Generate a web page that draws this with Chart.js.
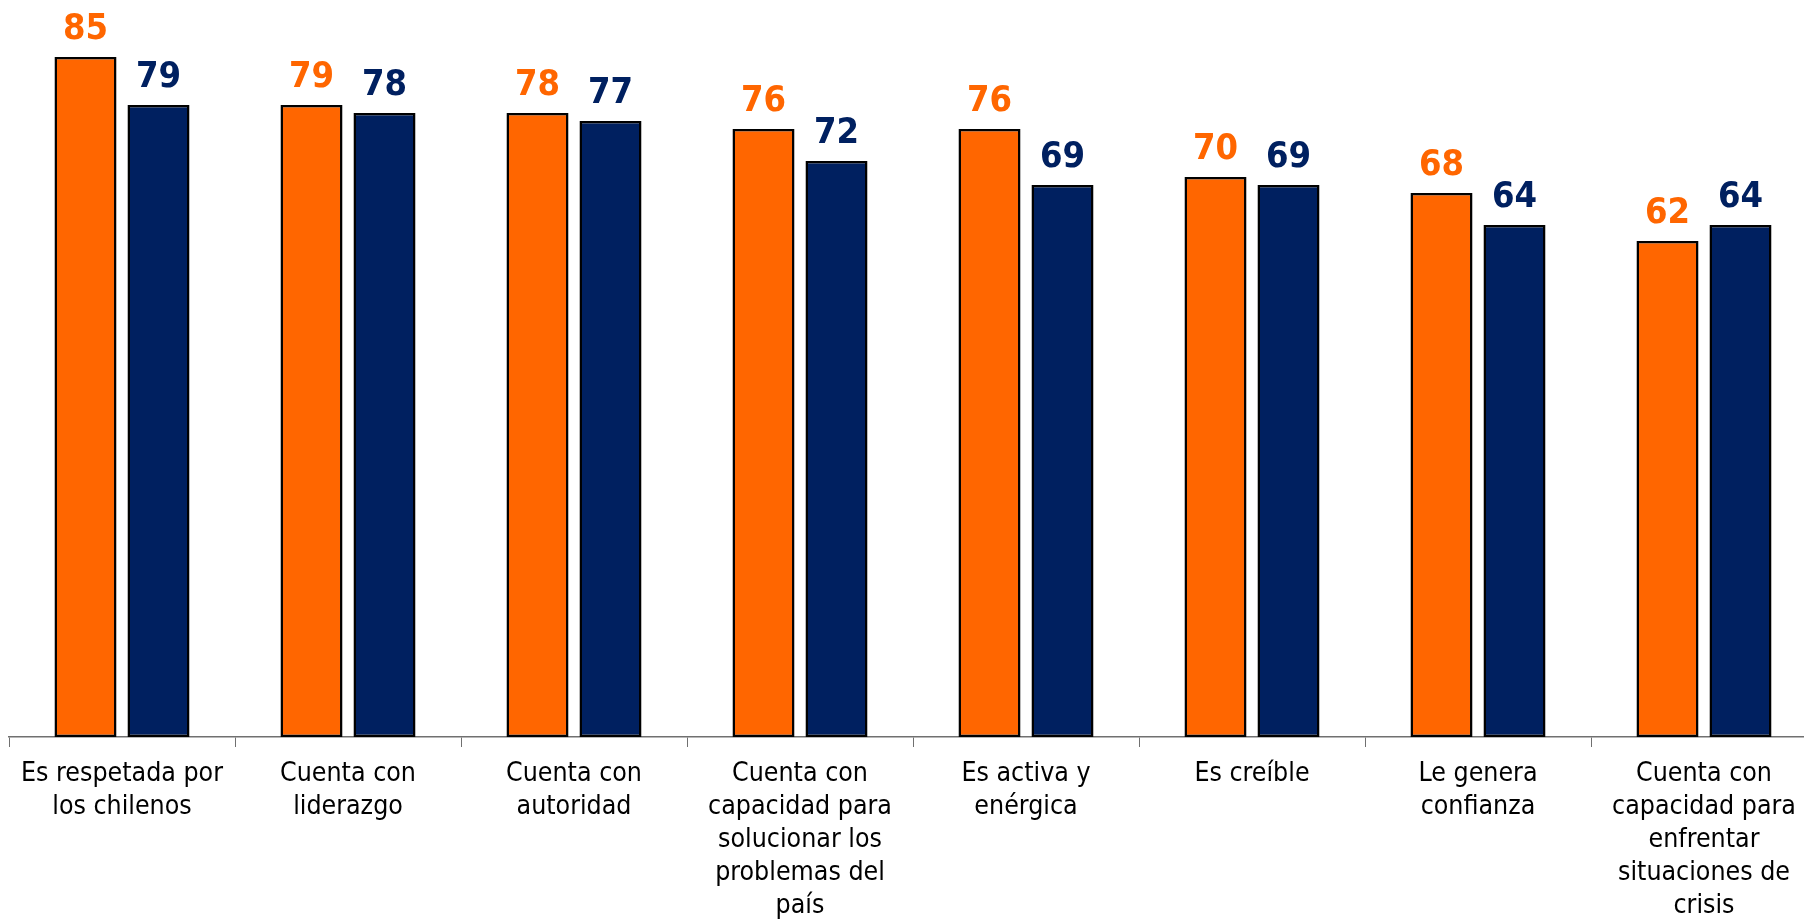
<!DOCTYPE html>
<html>
<head>
<meta charset="utf-8">
<script src="https://cdn.jsdelivr.net/npm/chart.js@4"></script>
<style>
  html, body { margin: 0; padding: 0; background: #fff; overflow: hidden; }
  #wrap { width: 1820px; height: 919px; }
</style>
</head>
<body>
<div id="wrap"><canvas id="myChart" width="1820" height="919"></canvas></div>
<script>
const categories = [
  ['Es respetada por', 'los chilenos'],
  ['Cuenta con', 'liderazgo'],
  ['Cuenta con', 'autoridad'],
  ['Cuenta con', 'capacidad para', 'solucionar los', 'problemas del', 'país'],
  ['Es activa y', 'enérgica'],
  ['Es creíble'],
  ['Le genera', 'confianza'],
  ['Cuenta con', 'capacidad para', 'enfrentar', 'situaciones de', 'crisis'],
];
const seriesOrange = [85, 79, 78, 76, 76, 70, 68, 62];
const seriesBlue = [79, 78, 77, 72, 69, 69, 64, 64];

const ORANGE = '#FF6600';
const NAVY = '#002060';

// draws the numbers above each bar
const valueLabels = {
  id: 'valueLabels',
  afterDatasetsDraw(chart) {
    const ctx = chart.ctx;
    ctx.save();
    ctx.font = 'bold 36px "DejaVu Sans Condensed"';
    ctx.textAlign = 'center';
    ctx.textBaseline = 'alphabetic';
    chart.data.datasets.forEach((ds, i) => {
      const meta = chart.getDatasetMeta(i);
      ctx.fillStyle = ds.backgroundColor;
      meta.data.forEach((bar, j) => {
        ctx.fillText(ds.data[j], bar.x, bar.y - 18);
      });
    });
    ctx.restore();
  },
};

const ctx = document.getElementById('myChart').getContext('2d');
new Chart(ctx, {
  type: 'bar',
  data: {
    labels: categories,
    datasets: [
      {
        data: seriesOrange,
        backgroundColor: ORANGE,
        borderColor: '#000',
        borderWidth: 2.5,
        borderSkipped: false,
        categoryPercentage: 0.646,
        barPercentage: 0.85,
      },
      {
        data: seriesBlue,
        backgroundColor: NAVY,
        borderColor: '#000',
        borderWidth: 2.5,
        borderSkipped: false,
        categoryPercentage: 0.646,
        barPercentage: 0.85,
      },
    ],
  },
  options: {
    responsive: false,
    animation: false,
    layout: { padding: { left: 9, right: 3, top: 1, bottom: 0 } },
    plugins: {
      legend: { display: false },
      tooltip: { enabled: false },
    },
    scales: {
      x: {
        grid: {
          drawOnChartArea: false,
          drawTicks: true,
          tickLength: 10,
          color: '#707070',
          offset: true,
        },
        border: { display: true, color: '#707070', width: 1.5 },
        ticks: {
          autoSkip: false,
          maxRotation: 0,
          padding: 11,
          color: '#000',
          font: { family: '"DejaVu Sans Condensed"', size: 26.5, lineHeight: 1.24 },
        },
        afterFit(scale) {
          scale.height = 182;
        },
      },
      y: {
        display: false,
        min: 0,
        max: 92,
      },
    },
  },
  plugins: [valueLabels],
});
</script>
</body>
</html>
